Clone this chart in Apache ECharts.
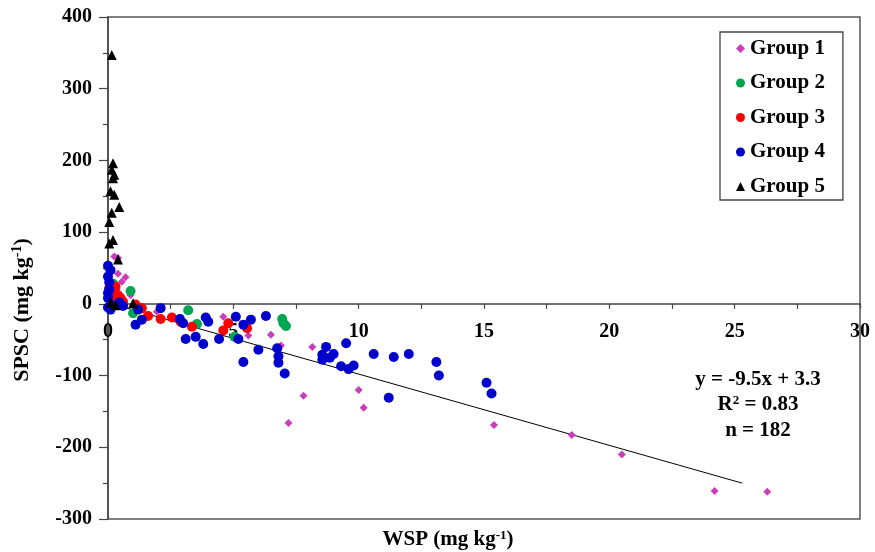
<!DOCTYPE html>
<html>
<head>
<meta charset="utf-8">
<script src="https://cdn.jsdelivr.net/npm/echarts@6/dist/echarts.min.js"></script>
<style>html,body{margin:0;padding:0;background:#fff;}#c{width:875px;height:552px;}</style>
</head>
<body>
<div id="c"></div>
<script>
const FONT = '"Liberation Serif", "Times New Roman", serif';

const groupNames = ['Group 1', 'Group 2', 'Group 3', 'Group 4', 'Group 5'];

const group1 = [[0.25,66],[0.4,64],[0.4,42],[0.7,37],[0.55,31],[0.9,12],[0.35,20],[1.2,-5],[1.95,-11],[4.6,-18],[5.6,-44],[6.5,-43],[6.9,-58],[8.15,-60],[7.8,-128],[7.2,-166],[10.0,-120],[10.2,-145],[15.4,-169],[18.5,-183],[20.5,-210],[24.2,-261],[26.3,-262]];

const group2 = [[0.2,28],[0.9,18],[0.3,10],[1.0,-13],[3.2,-9],[3.55,-28],[5.05,-46],[6.95,-21],[7.1,-31],[7.0,-27]];

const group3 = [[0.05,22],[0.3,24],[0.15,10],[0.4,12],[0.5,8],[0.2,15],[0.6,3],[1.1,-1],[1.35,-6],[1.6,-17],[2.1,-21],[2.55,-19],[2.9,-25],[3.35,-32],[4.6,-37],[4.8,-27],[5.55,-34]];

const group4 = [[0.0,53],[0.1,47],[0.0,38],[0.05,30],[0.05,20],[0.0,15],[0.0,8],[0.15,-2],[0.0,-5],[0.1,-8],[0.45,2],[0.6,-3],[1.2,-8],[1.1,-29],[1.35,-22],[2.1,-6],[2.87,-21],[3.0,-27],[3.1,-49],[3.5,-46],[3.8,-56],[3.9,-19],[4.0,-25],[4.43,-49],[5.1,-18],[5.4,-29],[5.4,-81],[5.7,-22],[5.2,-49],[6.0,-64],[6.3,-17],[6.75,-62],[6.8,-73],[6.8,-82],[7.05,-97],[8.55,-71],[8.55,-78],[8.7,-60],[8.85,-75],[9.0,-70],[9.5,-55],[9.3,-87],[9.6,-91],[9.8,-86],[10.6,-70],[11.2,-131],[11.4,-74],[12.0,-70],[13.1,-81],[13.2,-100],[15.1,-110],[15.3,-125]];

const group5 = [[0.15,347],[0.2,196],[0.15,187],[0.25,180],[0.2,175],[0.1,157],[0.25,152],[0.45,135],[0.15,127],[0.05,114],[0.2,89],[0.05,84],[0.4,62],[0.1,2],[1.0,1],[0.3,-2]];

const trendLine = [[0, 1.5], [25.3, -250]];

const xTicks = { min: 0, max: 30, interval: 5 };
const yTicks = { min: -300, max: 400, interval: 100 };

const equationLines = ['y = -9.5x + 3.3', '{t|R}{s|2}{t| = 0.83}', 'n = 182'];

const colors = ['#cc3dbb', '#00a651', '#ff0000', '#0000cc', '#000000'];
const symbols = ['diamond', 'circle', 'circle', 'circle', 'triangle'];
const sizes = [8, 10, 10, 10, 10];
const groups = [group1, group2, group3, group4, group5];

const chart = echarts.init(document.getElementById('c'), null, { renderer: 'canvas' });

// grid geometry
const GRID = { left: 108, top: 17, right: 15, bottom: 33 };
const plotH = 552 - GRID.top - GRID.bottom;
const zeroOffset = -plotH * (0 - yTicks.min) / (yTicks.max - yTicks.min);

const series = groups.map((g, i) => ({
  name: groupNames[i],
  type: 'scatter',
  data: g,
  symbol: symbols[i],
  symbolSize: sizes[i],
  itemStyle: { color: colors[i], opacity: 1 },
  z: 3 + i
}));
series.push({
  name: 'trend',
  type: 'line',
  data: trendLine,
  symbol: 'none',
  lineStyle: { color: '#000', width: 1 },
  silent: true,
  z: 2
});

const labelStyle = { fontFamily: FONT, fontWeight: 'bold', fontSize: 20, color: '#000' };
const rich = (size, sup) => ({
  t: { fontFamily: FONT, fontWeight: 'bold', fontSize: size, fill: '#000' },
  s: { fontFamily: FONT, fontWeight: 'bold', fontSize: sup, fill: '#000', verticalAlign: 'top', padding: [0, 0, Math.round(size * 0.45), 0] }
});

chart.setOption({
  animation: false,
  backgroundColor: '#fff',
  grid: Object.assign({ show: true, borderColor: '#555', borderWidth: 1.5, backgroundColor: 'transparent' }, GRID),
  xAxis: {
    type: 'value', min: xTicks.min, max: xTicks.max, interval: xTicks.interval,
    position: 'bottom', offset: zeroOffset,
    axisLine: { onZero: false, lineStyle: { color: '#444', width: 1.5 } },
    axisTick: { show: true, length: 5, lineStyle: { color: '#444', width: 1.2 } },
    minorTick: { show: true, splitNumber: 2, length: 5, lineStyle: { color: '#444', width: 1.2 } },
    axisLabel: Object.assign({ margin: 18, hideOverlap: false }, labelStyle),
    splitLine: { show: false }
  },
  yAxis: {
    type: 'value', min: yTicks.min, max: yTicks.max, interval: yTicks.interval,
    axisLine: { show: true, onZero: false, lineStyle: { color: '#444', width: 1.5 } },
    axisTick: { show: true, length: 9, lineStyle: { color: '#444', width: 1.2 } },
    minorTick: { show: true, splitNumber: 2, length: 5, lineStyle: { color: '#444', width: 1.2 } },
    axisLabel: Object.assign({ margin: 16 }, labelStyle),
    splitLine: { show: false }
  },
  legend: {
    orient: 'vertical',
    left: 720, top: 32,
    data: groupNames.map((n, i) => ({ name: n, icon: symbols[i] })),
    itemWidth: 9, itemHeight: 9, itemGap: 13.5,
    padding: [6, 18, 3, 16],
    backgroundColor: '#fff',
    borderColor: '#444', borderWidth: 1.3,
    textStyle: { fontFamily: FONT, fontWeight: 'bold', fontSize: 21, color: '#000', lineHeight: 20 }
  },
  graphic: [
    {
      type: 'text', x: 22, y: 310, rotation: Math.PI / 2,
      style: { text: '{t|SPSC (mg kg}{s|-1}{t|)}', align: 'center', verticalAlign: 'middle', rich: rich(22, 14) }
    },
    {
      type: 'text', x: 448, y: 540,
      style: { text: '{t|WSP (mg kg}{s|-1}{t|)}', align: 'center', verticalAlign: 'middle', rich: rich(21, 13) }
    },
    {
      type: 'text', x: 758, y: 380,
      style: { text: equationLines[0], align: 'center', verticalAlign: 'middle', font: 'bold 21px ' + FONT, fill: '#000' }
    },
    {
      type: 'text', x: 758, y: 405,
      style: { text: equationLines[1], align: 'center', verticalAlign: 'middle', rich: rich(21, 13) }
    },
    {
      type: 'text', x: 758, y: 431,
      style: { text: equationLines[2], align: 'center', verticalAlign: 'middle', font: 'bold 21px ' + FONT, fill: '#000' }
    }
  ],
  series: series
});
</script>
</body>
</html>
